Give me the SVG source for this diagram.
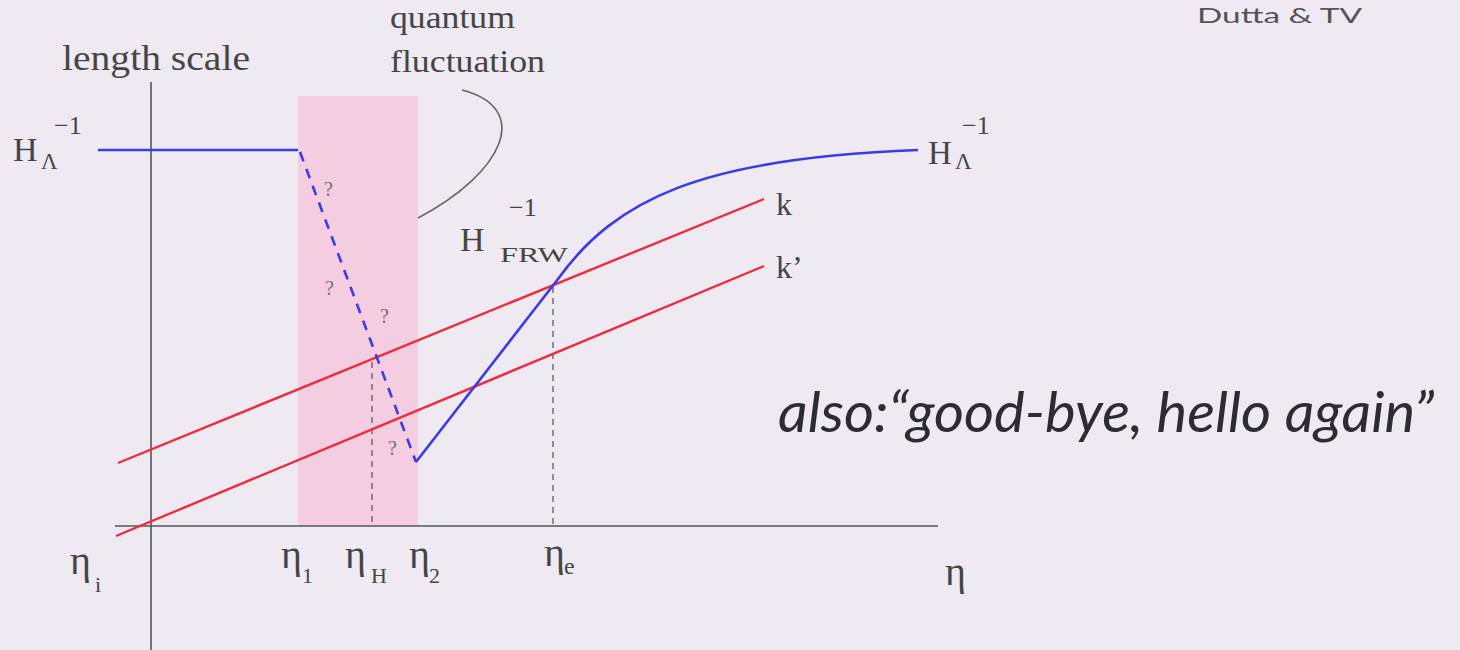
<svg xmlns="http://www.w3.org/2000/svg" width="1460" height="650" viewBox="0 0 1460 650">
<defs>
<style>
.serif{font-family:"Liberation Serif","DejaVu Serif",serif;fill:#454545}
.q{font-family:"Liberation Serif",serif;fill:#707070;font-size:20px}
.axis{stroke:#555;stroke-width:1.6;fill:none}
.red{stroke:#ee2c3c;stroke-width:2.4;fill:none}
.blue{stroke:#3a3ae6;stroke-width:2.6;fill:none}
.guide{stroke:#666;stroke-width:1.4;stroke-dasharray:6 5;fill:none}
</style>
</defs>
<rect width="1460" height="650" fill="#efe9f1"/>
<rect x="298" y="96" width="120" height="430" fill="#f5cde0"/>

<g id="axes">
<line class="axis" x1="151" y1="82" x2="151" y2="650"/>
<line class="axis" x1="115" y1="526" x2="938" y2="526"/>
</g>

<g id="connectors">
<line class="guide" x1="372" y1="362" x2="372" y2="526"/>
<line class="guide" x1="553" y1="287" x2="553" y2="526"/>
<line id="k-line" class="red" x1="118" y1="463" x2="764" y2="199"/>
<line id="kp-line" class="red" x1="116" y1="536" x2="764" y2="266"/>
<polyline class="blue" points="98,150 298,150"/>
<line class="blue" x1="300" y1="152" x2="416" y2="462" stroke-width="5.5" stroke-dasharray="10 8"/>
<path class="blue" d="M416,462 L558,279 C615,200 700,158 918,150"/>
<path d="M462,90 C532,108 505,172 418,218" fill="none" stroke="#666" stroke-width="1.6"/>
</g>

<g id="question-marks">
<text class="q" x="324" y="196">?</text>
<text class="q" x="325" y="295">?</text>
<text class="q" x="380" y="323">?</text>
<text class="q" x="388" y="455">?</text>
</g>

<g id="label-length-scale"><text class="serif" x="62" y="70" font-size="35" textLength="188" lengthAdjust="spacingAndGlyphs">length scale</text></g>
<g id="label-quantum">
<text class="serif" x="390" y="28" font-size="31" textLength="125" lengthAdjust="spacingAndGlyphs">quantum</text>
<text class="serif" x="390" y="72" font-size="31" textLength="155" lengthAdjust="spacingAndGlyphs">fluctuation</text>
</g>

<g id="label-HL-left">
<text class="serif" x="13" y="161" font-size="34">H</text>
<text class="serif" x="54" y="134" font-size="26">−1</text>
<text class="serif" x="41" y="169" font-size="23">Λ</text>
</g>
<g id="label-HL-right">
<text class="serif" x="928" y="164" font-size="33">H</text>
<text class="serif" x="962" y="134" font-size="26">−1</text>
<text class="serif" x="955" y="169" font-size="23">Λ</text>
</g>
<g id="label-HFRW">
<text class="serif" x="460" y="251" font-size="34">H</text>
<text class="serif" x="509" y="216" font-size="26">−1</text>
<text class="serif" x="500" y="262" font-size="22" textLength="68" lengthAdjust="spacingAndGlyphs">FRW</text>
</g>
<g id="label-k"><text class="serif" x="776" y="215" font-size="32">k</text></g>
<g id="label-kp"><text class="serif" x="776" y="278" font-size="32">k’</text></g>

<g id="eta-labels">
<text class="serif" x="70" y="574" font-size="40">η</text>
<text class="serif" x="95" y="592" font-size="22">i</text>
<text class="serif" x="281" y="568" font-size="40">η</text>
<text class="serif" x="302" y="583" font-size="22">1</text>
<text class="serif" x="345" y="568" font-size="40">η</text>
<text class="serif" x="371" y="583" font-size="22">H</text>
<text class="serif" x="409" y="568" font-size="40">η</text>
<text class="serif" x="429" y="583" font-size="22">2</text>
<text class="serif" x="544" y="566" font-size="40">η</text>
<text class="serif" x="564" y="574" font-size="24">e</text>
<text class="serif" x="945" y="585" font-size="40">η</text>
</g>

<g id="label-also"><text x="778" y="432" font-family="Lato,'Liberation Sans',sans-serif" font-style="italic" font-size="56" fill="#2c2c36" textLength="656" lengthAdjust="spacingAndGlyphs">also:“good-bye, hello again”</text></g>
<g id="label-credit"><text x="1197" y="23" font-family="Lato,'Liberation Sans',sans-serif" font-size="22" fill="#555" textLength="165" lengthAdjust="spacingAndGlyphs">Dutta &amp; TV</text></g>
</svg>
